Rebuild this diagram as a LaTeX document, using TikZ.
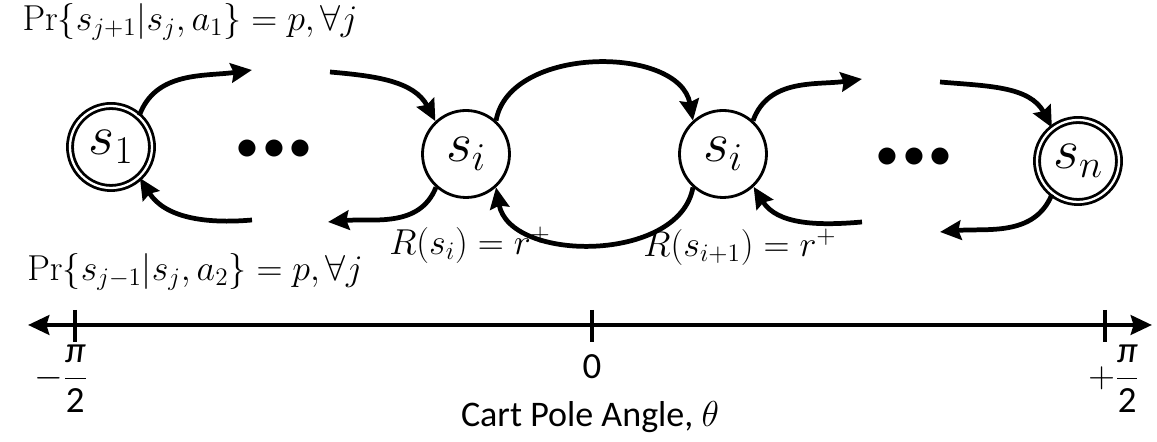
\RequirePackage{fix-cm}
\documentclass[tikz,border=0pt]{standalone}
\usepackage{amsmath}
\usepackage[no-math]{fontspec}
\newfontfamily\carlito{Carlito}
\usetikzlibrary{arrows.meta,positioning}

\begin{document}
\begin{tikzpicture}[
    >={Stealth[length=12pt,width=11pt,inset=1.5pt]},
    % Styles
    stateNode/.style={draw, circle, line width=1.6pt, minimum size=1.74cm, inner sep=0pt, font=\fontsize{32}{36}\selectfont},
    termNode/.style={stateNode, double, double distance=1.3pt, minimum size=1.64cm},
    dotsNode/.style={inner sep=0pt, font=\fontsize{25}{30}\selectfont},
    transArrow/.style={->, line width=2.7pt},
    mathLabel/.style={inner sep=1pt, font=\fontsize{20.5}{24}\selectfont},
    tickLabel/.style={font=\fontsize{21}{24}\selectfont}
]
\useasboundingbox (0,0) rectangle (23.14,8.84);

% ================= STATES =================
\node[termNode] (s1) at (2.22, 5.90) {$s_1$};
\node[stateNode] (si) at (9.32, 5.76) {$s_i$};
\node[stateNode] (sip) at (14.46, 5.76) {$s_i$};
\node[termNode] (sn) at (21.56, 5.62) {$s_n$};

\node[dotsNode] (dotsA) at (5.48, 5.84) {$\mathord{\bullet}\mkern2mu\mathord{\bullet}\mkern2mu\mathord{\bullet}$};
\node[dotsNode] (dotsB) at (18.28, 5.68) {$\mathord{\bullet}\mkern2mu\mathord{\bullet}\mkern2mu\mathord{\bullet}$};

% free ends next to the dots
\coordinate (dAup) at (5.04, 7.44);
\coordinate (dAupR) at (6.60, 7.40);
\coordinate (dAlo) at (5.04, 4.44);
\coordinate (dAloR) at (6.56, 4.40);
\coordinate (dBup) at (17.24, 7.26);
\coordinate (dBupR) at (18.80, 7.20);
\coordinate (dBlo) at (17.24, 4.40);
\coordinate (dBloR) at (18.80, 4.20);

% ================= LABELS =================
\node[mathLabel] (prUp) at (3.80, 8.40) {$\mathrm{Pr}\{s_{j+1}|s_j,a_1\}=p,\forall j$};
\node[mathLabel] (prDown) at (3.90, 3.40) {$\mathrm{Pr}\{s_{j-1}|s_j,a_2\}=p,\forall j$};
\node[mathLabel] (rwdI) at (9.40, 3.94) {$R(s_i)=r^+$};
\node[mathLabel] (rwdIp) at (14.80, 3.90) {$R(s_{i+1})=r^+$};

% ================= TRANSITIONS =================
% forward (a_1)
\draw[transArrow] (s1.48) to[out=70, in=188] (dAup);
\draw[transArrow] (dAupR) to[out=-5, in=118] (si.133);
\draw[transArrow] (si.48) to[out=80, in=100] (sip.132);
\draw[transArrow] (sip.48) to[out=70, in=188] (dBup);
\draw[transArrow] (dBupR) to[out=-5, in=118] (sn.128);

% backward (a_2)
\draw[transArrow] (dAlo) to[out=185, in=-58] (s1.-47);
\draw[transArrow] (si.-132) to[out=-112, in=5] (dAloR);
\draw[transArrow] (sip.-132) to[out=-100, in=-80] (si.-48);
\draw[transArrow] (dBlo) to[out=185, in=-58] (sip.-47);
\draw[transArrow] (sn.-128) to[out=-112, in=5] (dBloR);

% ================= ANGLE AXIS =================
\coordinate (axL) at (0.56, 2.34);
\coordinate (axR) at (23.04, 2.34);
\draw[<->, line width=2.7pt] (axL) -- (axR);

\coordinate (tkL) at (1.50, 2.34);
\coordinate (tkZ) at (11.84, 2.34);
\coordinate (tkR) at (22.10, 2.34);
\draw[line width=1.8pt] ([yshift=0.30cm]tkL) -- ([yshift=-0.34cm]tkL);
\draw[line width=1.8pt] ([yshift=0.30cm]tkZ) -- ([yshift=-0.34cm]tkZ);
\draw[line width=1.8pt] ([yshift=0.30cm]tkR) -- ([yshift=-0.34cm]tkR);

\node[tickLabel] (lbL) at (1.22, 1.26) {$-\dfrac{\text{\carlito\itshape π}}{\text{\carlito 2}}$};
\node[tickLabel] (lbZ) at (11.84, 1.50) {\carlito 0};
\node[tickLabel] (lbR) at (22.28, 1.26) {$+\dfrac{\text{\carlito\itshape π}}{\text{\carlito 2}}$};

\node[font=\carlito\fontsize{20.5}{24}\selectfont] (axTitle) at (11.80, 0.50) {Cart Pole Angle, $\theta$};

\end{tikzpicture}
\end{document}
